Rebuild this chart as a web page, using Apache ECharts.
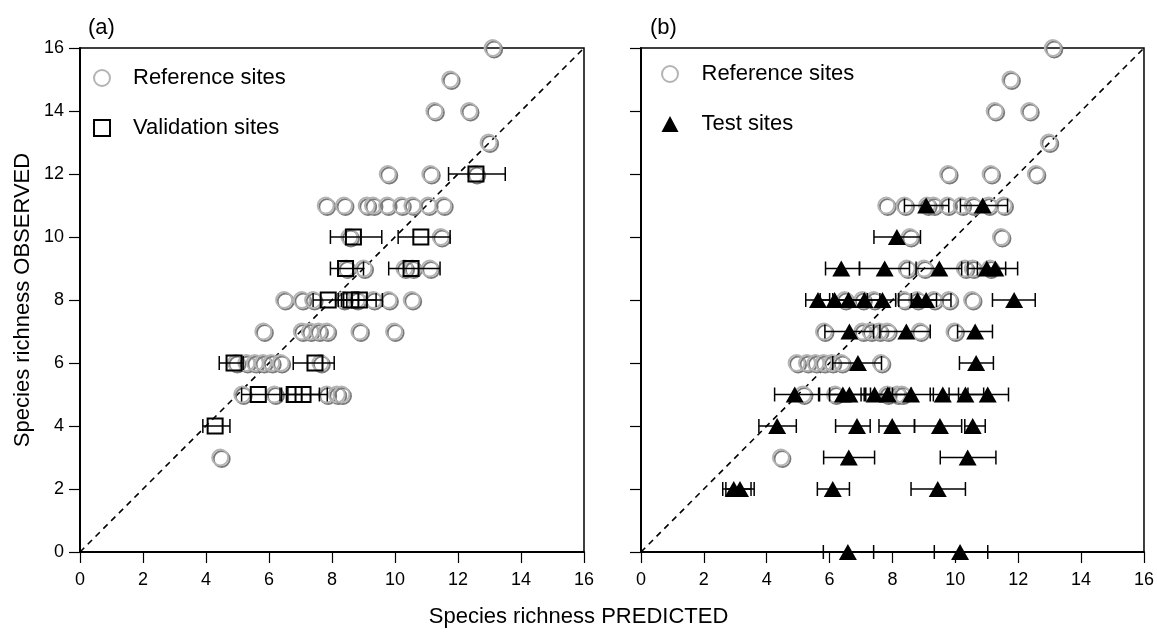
<!DOCTYPE html>
<html>
<head>
<meta charset="utf-8">
<script src="https://cdn.jsdelivr.net/npm/echarts@6/dist/echarts.min.js"></script>
<style>
html,body{margin:0;padding:0;background:#fff;}
#chart{width:1157px;height:632px;}
</style>
</head>
<body>
<div id="chart"></div>
<script>
// ---- Data ----
var xTicks = [0, 2, 4, 6, 8, 10, 12, 14, 16];
var yTicks = [0, 2, 4, 6, 8, 10, 12, 14, 16];

// Reference sites (same in both panels)
var refX = [13.1, 11.75, 11.25, 12.35, 12.97, 9.77, 11.12, 12.56,
  7.8, 8.38, 9.1, 9.3, 9.75, 10.2, 10.55, 11.05, 11.53,
  8.55, 11.45,
  8.45, 9.0, 10.3, 10.55, 11.1,
  6.48, 7.04, 7.4, 8.36, 8.78, 9.31, 9.79, 10.53,
  5.82, 7.04, 7.3, 7.57, 7.83, 8.87, 9.97,
  4.95, 5.28, 5.55, 5.81, 6.07, 6.37, 7.63,
  5.15, 6.17, 7.83, 8.15, 8.3,
  4.45];
var refY = [16, 15, 14, 14, 13, 12, 12, 12,
  11, 11, 11, 11, 11, 11, 11, 11, 11,
  10, 10,
  9, 9, 9, 9, 9,
  8, 8, 8, 8, 8, 8, 8, 8,
  7, 7, 7, 7, 7, 7, 7,
  6, 6, 6, 6, 6, 6, 6,
  5, 5, 5, 5, 5,
  3];

// Validation sites (panel a): predicted, observed, CI low, CI high
var valX  = [12.57, 8.68, 10.82, 8.43, 10.51, 7.88, 8.6, 8.87, 4.89, 7.46, 5.66, 6.8, 7.08, 4.29];
var valY  = [12, 10, 10, 9, 9, 8, 8, 8, 6, 6, 5, 5, 5, 4];
var valLo = [11.7, 7.95, 10.1, 7.95, 9.8, 7.4, 8.2, 8.3, 4.42, 6.77, 5.13, 6.4, 6.6, 3.9];
var valHi = [13.5, 9.58, 11.75, 9.0, 11.43, 8.47, 9.4, 9.6, 5.18, 8.07, 6.35, 7.6, 7.85, 4.76];

// Test sites (panel b)
var testX  = [9.07, 10.87, 8.14,
  6.37, 7.75, 9.49, 11.0, 11.27,
  5.63, 6.16, 6.6, 7.11, 7.68, 8.8, 9.07, 11.87,
  6.63, 8.44, 10.63,
  6.9, 10.66,
  4.89, 6.42, 6.63, 7.43, 7.85, 8.59, 9.6, 10.32, 11.03,
  4.33, 6.87, 7.99, 9.51, 10.55,
  6.61, 10.39,
  2.95, 3.15, 6.1, 9.44,
  6.58, 10.15];
var testY  = [11, 11, 10,
  9, 9, 9, 9, 9,
  8, 8, 8, 8, 8, 8, 8, 8,
  7, 7, 7,
  6, 6,
  5, 5, 5, 5, 5, 5, 5, 5, 5,
  4, 4, 4, 4, 4,
  3, 3,
  2, 2, 2, 2,
  0, 0];
var testLo = [8.38, 10.16, 7.41,
  5.87, 6.95, 8.75, 10.4, 10.7,
  5.24, 5.7, 6.1, 6.6, 7.2, 8.2, 8.6, 11.18,
  5.85, 7.6, 10.07,
  6.1, 10.13,
  4.25, 5.68, 6.0, 7.0, 7.15, 7.9, 9.2, 9.8, 10.4,
  3.75, 6.19, 7.57, 8.7, 10.3,
  5.81, 9.52,
  2.6, 2.7, 5.61, 8.59,
  5.8, 9.33];
var testHi = [9.79, 11.66, 8.89,
  6.95, 8.54, 10.2, 11.6, 11.98,
  6.0, 6.6, 7.1, 7.6, 8.1, 9.4, 9.86, 12.54,
  7.4, 9.2, 11.18,
  7.65, 11.21,
  5.65, 7.1, 7.3, 8.0, 8.6, 9.3, 10.1, 10.9, 11.69,
  4.94, 7.29, 8.7, 10.2, 10.95,
  7.43, 11.29,
  3.5, 3.6, 6.63, 10.32,
  7.4, 11.03];

var oneToOne = [[0, 0], [16, 16]];

// ---- Build ----
var FONT = '"Liberation Sans", Arial, sans-serif';
function zip2(a, b) { return a.map(function (v, i) { return [v, b[i]]; }); }
function zip4(a, b, c, d) { return a.map(function (v, i) { return [v, b[i], c[i], d[i]]; }); }

var refData = zip2(refX, refY);
var valPts = zip2(valX, valY);
var valErr = zip4(valX, valY, valLo, valHi);
var testPts = zip2(testX, testY);
var testErr = zip4(testX, testY, testLo, testHi);

function errRender(params, api) {
  var y = api.value(1);
  var a = api.coord([api.value(2), y]);
  var b = api.coord([api.value(3), y]);
  var h = 7;
  var st = { stroke: '#000', lineWidth: 1.5 };
  return {
    type: 'group',
    children: [
      { type: 'line', shape: { x1: a[0], y1: a[1], x2: b[0], y2: b[1] }, style: st },
      { type: 'line', shape: { x1: a[0], y1: a[1] - h, x2: a[0], y2: a[1] + h }, style: st },
      { type: 'line', shape: { x1: b[0], y1: b[1] - h, x2: b[0], y2: b[1] + h }, style: st }
    ]
  };
}

function xAxisDef(idx) {
  return {
    gridIndex: idx, type: 'value', min: 0, max: 16, interval: 2,
    axisLine: { show: true, onZero: false, lineStyle: { color: '#000', width: 2 } },
    axisTick: { show: true, inside: false, length: 11, lineStyle: { color: '#000', width: 1.2 } },
    axisLabel: { show: true, fontSize: 18, color: '#000', fontFamily: FONT, margin: 19,
      formatter: function (v) { return xTicks.indexOf(v) >= 0 ? String(v) : ''; } },
    splitLine: { show: false }
  };
}
function yAxisDef(idx, showLabel) {
  return {
    gridIndex: idx, type: 'value', min: 0, max: 16, interval: 2,
    axisLine: { show: true, onZero: false, lineStyle: { color: '#000', width: 2 } },
    axisTick: { show: true, inside: false, length: 11, lineStyle: { color: '#000', width: 1.2 } },
    axisLabel: { show: showLabel, fontSize: 18, color: '#000', fontFamily: FONT, margin: 16,
      formatter: function (v) { return yTicks.indexOf(v) >= 0 ? String(v) : ''; } },
    splitLine: { show: false },
    name: showLabel ? 'Species richness OBSERVED' : '',
    nameLocation: 'middle', nameGap: 46,
    nameTextStyle: { fontSize: 22, color: '#000', fontFamily: FONT }
  };
}

var refStyle = {
  color: 'rgba(0,0,0,0)', borderColor: '#b4b4b4', borderWidth: 2, opacity: 1,
  shadowColor: '#7a7a7a', shadowOffsetX: 1.5, shadowOffsetY: 1.5, shadowBlur: 0
};

var chart = echarts.init(document.getElementById('chart'), null, { renderer: 'canvas' });
chart.setOption({
  animation: false,
  backgroundColor: '#fff',
  textStyle: { fontFamily: FONT },
  grid: [
    { left: 80, top: 48, width: 504, height: 504, show: true, borderColor: '#000', borderWidth: 1.5, backgroundColor: 'transparent' },
    { left: 641, top: 48, width: 505, height: 504, show: true, borderColor: '#000', borderWidth: 1.5, backgroundColor: 'transparent' }
  ],
  xAxis: [xAxisDef(0), xAxisDef(1)],
  yAxis: [yAxisDef(0, true), yAxisDef(1, false)],
  legend: [
    {
      left: 88, top: 62, orient: 'vertical', itemWidth: 16, itemHeight: 16, itemGap: 28,
      selectedMode: false, data: ['Reference sites', 'Validation sites'],
      textStyle: { fontSize: 22, color: '#000', fontFamily: FONT, lineHeight: 22, padding: [0, 0, 0, 18] }
    },
    {
      left: 656, top: 58, orient: 'vertical', itemWidth: 17, itemHeight: 16, itemGap: 28,
      selectedMode: false, data: ['Reference sites', 'Test sites'],
      textStyle: { fontSize: 22, color: '#000', fontFamily: FONT, lineHeight: 22, padding: [0, 0, 0, 18] }
    }
  ],
  graphic: [
    { type: 'text', left: 88, top: 17, style: { text: '(a)', fontSize: 22, fill: '#000', fontFamily: FONT } },
    { type: 'text', left: 650, top: 17, style: { text: '(b)', fontSize: 22, fill: '#000', fontFamily: FONT } },
    { type: 'text', left: 'center', top: 606, style: { text: 'Species richness PREDICTED', fontSize: 22, fill: '#000', fontFamily: FONT } }
  ],
  series: [
    // panel a
    { type: 'line', xAxisIndex: 0, yAxisIndex: 0, data: oneToOne, symbol: 'none', silent: true,
      lineStyle: { color: '#000', width: 1.6, type: [6, 5] }, z: 1 },
    { name: 'Reference sites', type: 'scatter', xAxisIndex: 0, yAxisIndex: 0, data: refData,
      symbol: 'circle', symbolSize: 16, itemStyle: refStyle, clip: false, z: 2 },
    { type: 'custom', xAxisIndex: 0, yAxisIndex: 0, data: valErr, renderItem: errRender,
      encode: { x: [0, 2, 3], y: 1 }, z: 3, clip: false },
    { name: 'Validation sites', type: 'scatter', xAxisIndex: 0, yAxisIndex: 0, data: valPts,
      symbol: 'rect', symbolSize: 15, clip: false, z: 4,
      itemStyle: { color: 'rgba(0,0,0,0)', borderColor: '#000', borderWidth: 2, opacity: 1 } },
    // panel b
    { type: 'line', xAxisIndex: 1, yAxisIndex: 1, data: oneToOne, symbol: 'none', silent: true,
      lineStyle: { color: '#000', width: 1.6, type: [6, 5] }, z: 1 },
    { name: 'Reference sites', type: 'scatter', xAxisIndex: 1, yAxisIndex: 1, data: refData,
      symbol: 'circle', symbolSize: 16, itemStyle: refStyle, clip: false, z: 2 },
    { type: 'custom', xAxisIndex: 1, yAxisIndex: 1, data: testErr, renderItem: errRender,
      encode: { x: [0, 2, 3], y: 1 }, z: 3, clip: false },
    { name: 'Test sites', type: 'scatter', xAxisIndex: 1, yAxisIndex: 1, data: testPts,
      symbol: 'triangle', symbolSize: [18, 16], clip: false, z: 4,
      itemStyle: { color: '#000', borderColor: '#000', borderWidth: 0, opacity: 1 } }
  ]
});
</script>
</body>
</html>
